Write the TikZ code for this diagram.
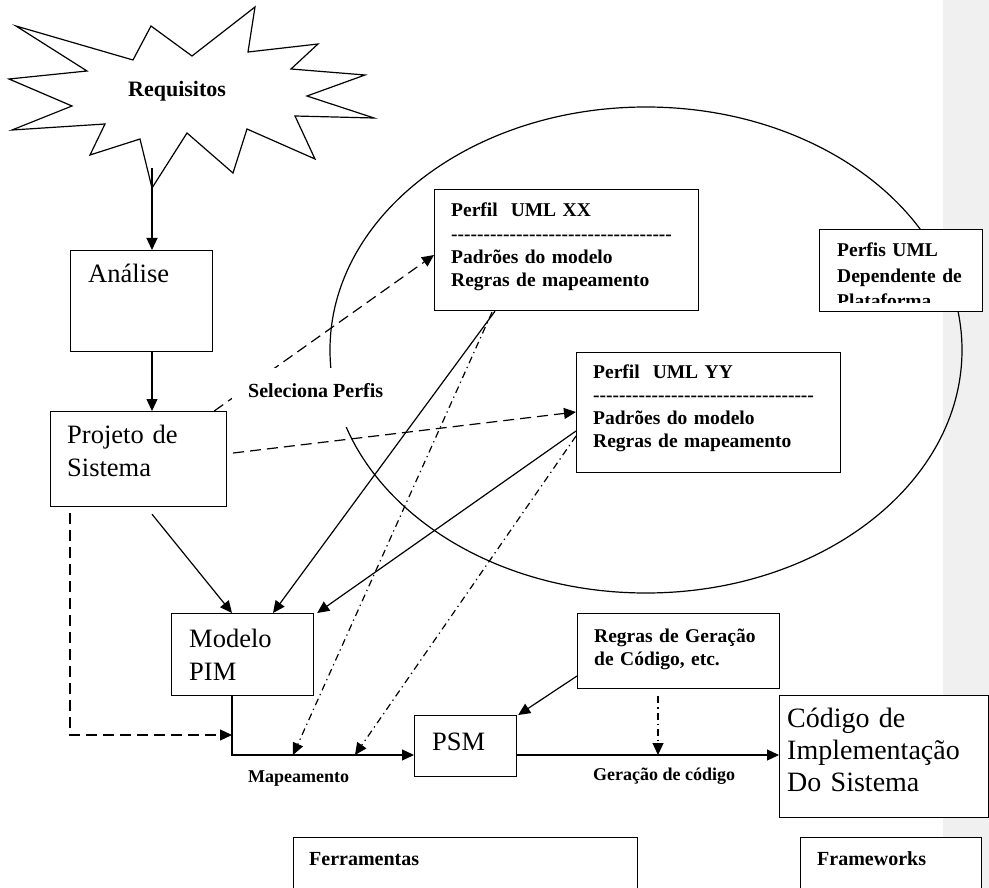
\documentclass[tikz,border=0pt]{standalone}
\usepackage{fontspec}
\setmainfont{Liberation Serif}
\usetikzlibrary{arrows.meta,calc}
\newcommand\hyphline{-{}-{}-{}-{}-{}-{}-{}-{}-{}-{}-{}-{}-{}-{}-{}-{}-{}-{}-{}-{}-{}-{}-{}-{}-{}-{}-{}-{}-{}-{}-{}-{}-{}-{}}
\begin{document}
\begin{tikzpicture}[x=1pt,y=-1pt,
  ln/.style={line width=1.2pt},
  arr/.style={line width=1.2pt,-{Triangle[length=12pt,width=11pt]}},
  dsh/.style={dash pattern=on 11pt off 6pt},
  ddot/.style={dash pattern=on 7pt off 4pt on 1.3pt off 4pt},
  bx/.style={draw,line width=1.2pt,fill=white,anchor=north west,inner sep=0pt},
  big/.style={anchor=base west,inner sep=0pt,text width=220pt,align=left,font=\fontsize{26.5}{33}\selectfont},
  bold/.style={anchor=base west,inner sep=0pt,text width=260pt,align=left,font=\fontsize{19.5}{23.3}\selectfont\bfseries},
  lab/.style={anchor=base west,inner sep=0pt,font=\fontsize{18}{20}\selectfont\bfseries}]
\useasboundingbox (0,0) rectangle (989,888);
\fill[gray!12] (943,0) rectangle (989,888);
% ellipse
\draw[ln] (646,350) ellipse [x radius=316, y radius=243];
% star
\draw[ln,line join=miter] (16,26) -- (133,60) -- (151,26) -- (192,56) -- (255,7) -- (248,52) -- (318,44) -- (291,69) -- (365,75) -- (307,96) -- (374,118) -- (295,116) -- (315,159) -- (247,129) -- (233,173) -- (187,133) -- (152,188) -- (140,139) -- (90,155) -- (105,124) -- (12,130) -- (72,106) -- (9,79) -- (87,71) -- cycle;
\node[font=\fontsize{22}{26}\selectfont\bfseries,anchor=base west,inner sep=0pt] (reqt) at (128,97) {Requisitos};
% boxes
\node[bx,minimum width=142pt,minimum height=101pt] (ana) at (70,250) {};
\node[bx,minimum width=176pt,minimum height=95pt] (proj) at (50,411) {};
\node[bx,minimum width=142pt,minimum height=82pt] (pim) at (171,613) {};
\node[bx,minimum width=102pt,minimum height=61pt] (psm) at (414,715) {};
\node[bx,minimum width=209pt,minimum height=122pt] (cod) at (779,695) {};
\node[bx,minimum width=264pt,minimum height=121pt] (xx) at (434,189) {};
\node[bx,minimum width=264pt,minimum height=120pt] (yy) at (576,352) {};
\node[bx,minimum width=163pt,minimum height=82pt] (dep) at (819,229) {};
\node[bx,minimum width=202pt,minimum height=75pt] (gen) at (577,613) {};
\node[bx,minimum width=344pt,minimum height=80pt] (fer) at (293,837) {};
\node[bx,minimum width=181pt,minimum height=80pt] (fra) at (800,837) {};
% texts
\node[big] (anat) at (88,283) {Análise};
\node[big] (projt) at (67,443) {Projeto de\\Sistema};
\node[big] (pimt) at (189,647) {Modelo\\PIM};
\node[big] (psmt) at (432,750) {PSM};
\node[big,font=\fontsize{28}{32}\selectfont] (codt) at (787,727) {Código de\\Implementação\\Do Sistema};
\node[bold] (xxt) at (451,217) {Perfil\ \ UML XX\\\hyphline\\Padrões do modelo\\Regras de mapeamento};
\node[bold] (yyt) at (593,378) {Perfil\ \ UML YY\\\hyphline\\Padrões do modelo\\Regras de mapeamento};
\begin{scope}
\clip (819,229) rectangle (982,302);
\node[bold,font=\fontsize{19.5}{25.5}\selectfont\bfseries] (dept) at (837,257) {Perfis UML\\Dependente de\\Plataforma};
\end{scope}
\node[bold,font=\fontsize{19.5}{23}\selectfont\bfseries] (gent) at (594,642) {Regras de Geração\\de Código, etc.};
\node[bold,font=\fontsize{20}{24}\selectfont\bfseries] (fert) at (309,865) {Ferramentas};
\node[bold,font=\fontsize{20}{24}\selectfont\bfseries] (frat) at (817,865) {Frameworks};
% connectors
\coordinate (reqbot) at (152,168);
\coordinate (mapc) at (232,755);
\coordinate (gd) at ([xshift=81pt]gen.south west);
\draw[arr] (reqbot) -- (reqbot |- ana.north);
\draw[arr] (reqbot |- ana.south) -- (reqbot |- proj.north);
\draw[arr] ([xshift=102pt,yshift=-7pt]proj.south west) -- ([xshift=61pt]pim.north west);
\draw[arr] ([xshift=61pt]xx.south west) -- ([xshift=102pt]pim.north west);
\draw[arr] ([yshift=-79pt]yy.north west) -- ([xshift=3pt]pim.north east);
\draw[arr,dsh] ([xshift=-13pt]proj.north east) -- ([yshift=-66pt]xx.north west);
\draw[arr,dsh] ([xshift=6pt,yshift=-42pt]proj.north east) -- ([yshift=-60pt]yy.north west);
\draw[arr,ddot] ([xshift=58pt,yshift=-1pt]xx.south west) -- ([xshift=61pt]mapc);
\draw[arr,ddot] ([yshift=-84pt]yy.north west) -- ([xshift=123pt]mapc);
\draw[arr,dsh] ([xshift=20pt,yshift=-6pt]proj.south west) |- ([yshift=20pt]mapc);
\draw[arr] ([xshift=61pt]pim.south west) -- (mapc) -- (mapc -| psm.west);
\draw[arr] (mapc -| psm.east) -- (mapc -| cod.west);
\draw[arr] ([yshift=-63pt]gen.north west) -- ([xshift=1pt]psm.north east);
\draw[arr,ddot] ([yshift=-7pt]gd) -- (gd |- mapc);
% labels
\fill[white] (232,368) rectangle (397,427);
\node[lab,font=\fontsize{20}{24}\selectfont\bfseries] (selt) at (248,397) {Seleciona Perfis};
\node[lab] (mapt) at (248,782) {Mapeamento};
\node[lab] (gert) at (593,780) {Geração de código};
\end{tikzpicture}
\end{document}
